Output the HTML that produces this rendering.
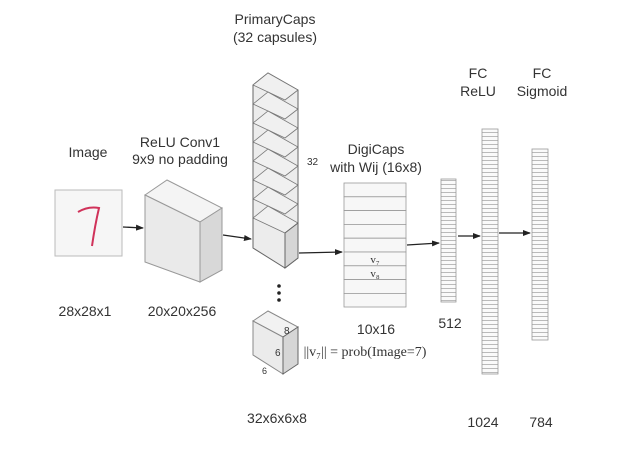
<!DOCTYPE html>
<html><head><style>
body{margin:0;background:#fff}
svg{display:block}
text{font-family:"Liberation Sans",sans-serif;fill:#333}
.s{font-family:"Liberation Serif",serif}
</style></head><body>
<svg width="623" height="452" viewBox="0 0 623 452" xmlns="http://www.w3.org/2000/svg" font-size="14">
<defs>
<marker id="a" markerWidth="8" markerHeight="8" refX="7" refY="4" orient="auto" markerUnits="userSpaceOnUse"><path d="M0,1 L8,4 L0,7 Z" fill="#222"/></marker>
<pattern id="st" width="10" height="4" patternUnits="userSpaceOnUse"><rect width="10" height="4" fill="#fafafa"/><line x1="0" y1="0.5" x2="10" y2="0.5" stroke="#aaa" stroke-width="0.8"/></pattern>
</defs>
<rect width="623" height="452" fill="#fff"/>
<text x="88" y="157" text-anchor="middle">Image</text>
<text x="180" y="147" text-anchor="middle">ReLU Conv1</text>
<text x="180" y="164" text-anchor="middle">9x9 no padding</text>
<text x="275" y="24" text-anchor="middle">PrimaryCaps</text>
<text x="275" y="42" text-anchor="middle">(32 capsules)</text>
<text x="307" y="165" style="font-size:10px">32</text>
<text x="376" y="154" text-anchor="middle">DigiCaps</text>
<text x="376" y="172" text-anchor="middle">with Wij (16x8)</text>
<text x="478" y="78" text-anchor="middle">FC</text>
<text x="478" y="96" text-anchor="middle">ReLU</text>
<text x="542" y="78" text-anchor="middle">FC</text>
<text x="542" y="96" text-anchor="middle">Sigmoid</text>
<text x="85" y="316" text-anchor="middle">28x28x1</text>
<text x="182" y="316" text-anchor="middle">20x20x256</text>
<text x="376" y="334" text-anchor="middle">10x16</text>
<text x="450" y="328" text-anchor="middle">512</text>
<text x="365" y="356" text-anchor="middle" class="s" style="font-size:14px">||v₇|| = prob(Image=7)</text>
<text x="277" y="423" text-anchor="middle">32x6x6x8</text>
<text x="483" y="427" text-anchor="middle">1024</text>
<text x="541" y="427" text-anchor="middle">784</text>
<rect x="55" y="190" width="67" height="66" fill="#f6f6f6" stroke="#bbb"/>
<path d="M78,212 Q88,206 99,208 Q95,225 92,246" stroke="#d0325a" stroke-width="2" fill="none"/>
<polygon points="145,195 167,180 222,208 200,222" fill="#f4f4f4" stroke="#999"/>
<polygon points="145,195 200,222 200,282 145,262" fill="#eaeaea" stroke="#999"/>
<polygon points="200,222 222,208 222,270 200,282" fill="#d8d8d8" stroke="#999"/>
<polygon points="253,85 268,73 298,90 298,258 285,268 253,248" fill="#ececec" stroke="#666"/>
<g fill="#f0f0f0" stroke="#777" stroke-width="0.8">
<polygon points="253,85 268,73 298,90 285,100"/>
<polygon points="253,104 268,92 298,109 285,119"/>
<polygon points="253,123 268,111 298,128 285,138"/>
<polygon points="253,142 268,130 298,147 285,157"/>
<polygon points="253,161 268,149 298,166 285,176"/>
<polygon points="253,180 268,168 298,185 285,195"/>
<polygon points="253,199 268,187 298,204 285,214"/>
<polygon points="253,218 268,206 298,223 285,233"/>
</g>
<polygon points="285,233 298,223 298,258 285,268" fill="#d6d6d6" stroke="#666"/>
<circle cx="279" cy="286" r="1.8" fill="#222"/><circle cx="279" cy="293" r="1.8" fill="#222"/><circle cx="279" cy="300" r="1.8" fill="#222"/>
<polygon points="253,321 268,311 298,327 283,337" fill="#f2f2f2" stroke="#888"/>
<polygon points="253,321 283,337 283,374 253,355" fill="#ebebeb" stroke="#888"/>
<polygon points="283,337 298,327 298,364 283,374" fill="#d6d6d6" stroke="#666"/>
<text x="284" y="334" style="font-size:10px">8</text>
<text x="275" y="356" style="font-size:10px">6</text>
<text x="262" y="374" style="font-size:9px">6</text>
<g fill="#f7f7f7" stroke="#999" stroke-width="0.8">
<rect x="344" y="183" width="62" height="13.8"/><rect x="344" y="196.8" width="62" height="13.8"/><rect x="344" y="210.6" width="62" height="13.8"/><rect x="344" y="224.4" width="62" height="13.8"/><rect x="344" y="238.2" width="62" height="13.8"/><rect x="344" y="252" width="62" height="13.8"/><rect x="344" y="265.8" width="62" height="13.8"/><rect x="344" y="279.6" width="62" height="13.8"/><rect x="344" y="293.4" width="62" height="13.6"/>
</g>
<text x="375" y="263" text-anchor="middle" class="s" style="font-size:11px">v₇</text>
<text x="375" y="277" text-anchor="middle" class="s" style="font-size:11px">v₈</text>
<rect x="441" y="179" width="15" height="123" fill="url(#st)" stroke="#999" stroke-width="0.8"/>
<rect x="482" y="129" width="16" height="245" fill="url(#st)" stroke="#999" stroke-width="0.8"/>
<rect x="532" y="149" width="16" height="191" fill="url(#st)" stroke="#999" stroke-width="0.8"/>
<g stroke="#222" stroke-width="1.3" marker-end="url(#a)">
<line x1="123" y1="227" x2="143" y2="228"/>
<line x1="223" y1="235" x2="251" y2="239"/>
<line x1="299" y1="253" x2="342" y2="252"/>
<line x1="407" y1="245" x2="439" y2="243"/>
<line x1="458" y1="236" x2="480" y2="236"/>
<line x1="499" y1="233" x2="530" y2="233"/>
</g>
</svg>
</body></html>
